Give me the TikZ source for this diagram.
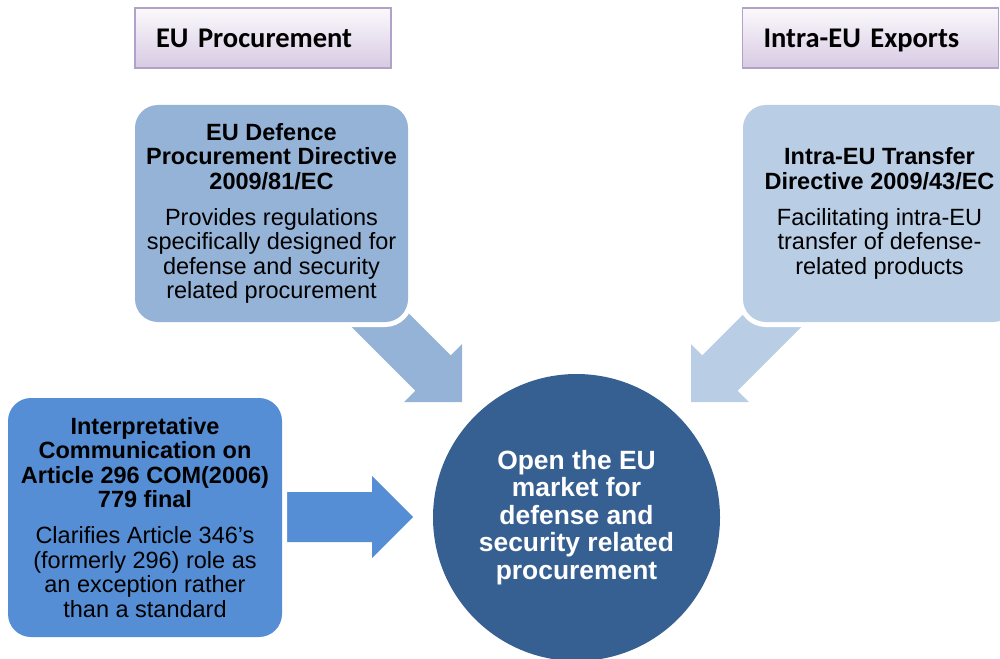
\documentclass[tikz,border=0pt]{standalone}
\usepackage{fontspec}
\setmainfont{Liberation Sans}
\newfontfamily\labelfont{Carlito}
\definecolor{tagline}{HTML}{B3A2C7}
\definecolor{tagtop}{HTML}{FBF9FC}
\definecolor{tagbottom}{HTML}{D7CAE3}
\definecolor{cardA}{HTML}{95B3D7}
\definecolor{cardB}{HTML}{B9CDE5}
\definecolor{cardC}{HTML}{558ED5}
\definecolor{hubfill}{HTML}{376092}
\tikzset{
  pics/blockarrow/.style 2 args={code={
    \fill[#1] (0,0) -- (-41,-41) -- (-41,-25) -- (-#2,-25) -- (-#2,25)
      -- (-41,25) -- (-41,41) -- cycle;}},
}
\begin{document}
\begin{tikzpicture}[x=1pt,y=-1pt,
  tag/.style={draw=tagline, line width=1.5pt, top color=tagtop,
    bottom color=tagbottom, minimum width=256pt, minimum height=60pt,
    text width=214pt, inner xsep=21pt, inner ysep=0pt, align=left,
    text height=24pt, text depth=5pt,
    font=\labelfont\bfseries\fontsize{28.5}{30}\selectfont},
  card/.style={fill=#1, rounded corners=23pt, minimum width=273pt,
    minimum height=217pt, inner sep=0pt, align=center,
    preaction={draw=white, line width=10pt},
    font=\fontsize{23.5}{24.5}\selectfont},
  hub/.style={circle, fill=hubfill, minimum size=287pt, inner sep=0pt,
    text=white, align=center,
    font=\bfseries\fontsize{26.4}{27.5}\selectfont},
]
\useasboundingbox (0,0) rectangle (1000,658);
\clip (0,0) rectangle (1000,658);

% arrow tips pointing at the central goal
\coordinate (tipA) at (462,402);
\coordinate (tipB) at (691,402);
\coordinate (tipC) at (413,517);

% block arrows, partly hidden under the cards
\pic[rotate=-45] at (tipA) {blockarrow={cardA}{165}};
\pic[rotate=-135] at (tipB) {blockarrow={cardB}{165}};
\pic at (tipC) {blockarrow={cardC}{143}};

% headings
\node[tag] (procure) at (263,38) {EU Procurement};
\node[tag] (exports) at (870.5,38) {Intra-EU Exports};

% legal instruments
\node[card=cardA] (dpd) at (271.5,213.5) {%
  \textbf{EU Defence}\\
  \textbf{Procurement Directive}\\
  \textbf{2009/81/EC}\\[11.5pt]
  Provides regulations\\
  specifically designed for\\
  defense and security\\
  related procurement};

\node[card=cardB] (itd) at (879.5,213.5) {%
  \textbf{Intra-EU Transfer}\\
  \textbf{Directive 2009/43/EC}\\[11.5pt]
  Facilitating intra-EU\\
  transfer of defense-\\
  related products};

\node[card=cardC, minimum width=274pt, minimum height=239pt] (com) at (145,517.5) {%
  \textbf{Interpretative}\\
  \textbf{Communication on}\\
  \textbf{Article 296 COM(2006)}\\
  \textbf{779 final}\\[11.5pt]
  Clarifies Article 346's\\
  (formerly 296) role as\\
  an exception rather\\
  than a standard};

% goal
\node[hub] (goal) at (576.5,517.5) {Open the EU\\market for\\defense and\\security related\\procurement};
\end{tikzpicture}
\end{document}
